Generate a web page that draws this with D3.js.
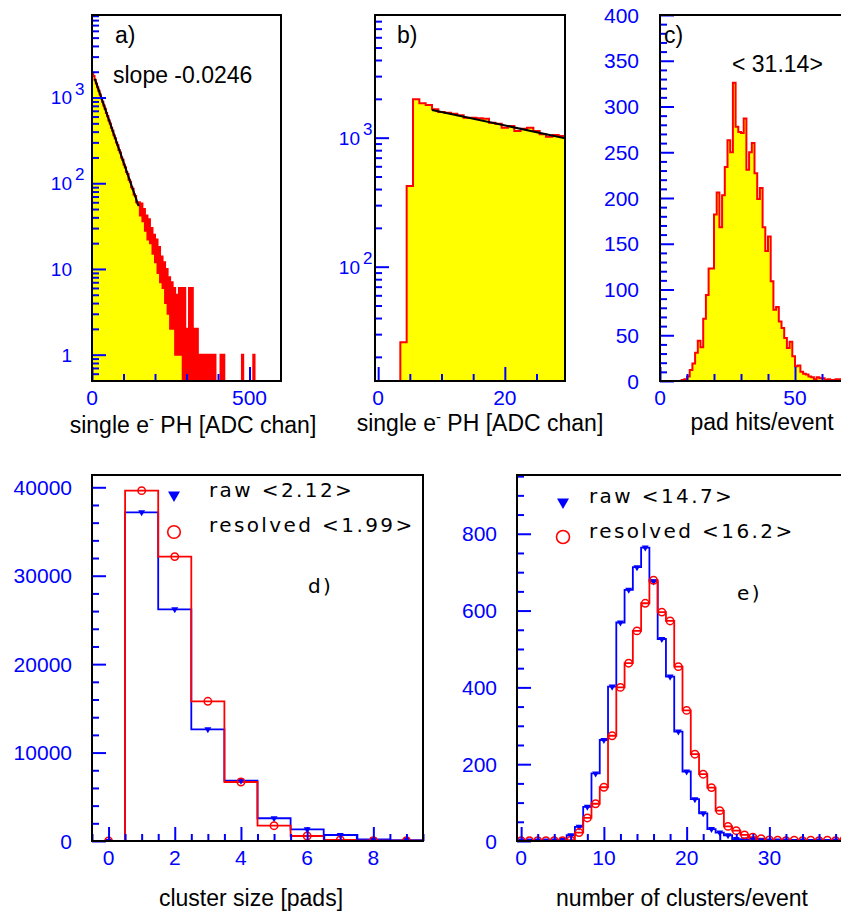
<!DOCTYPE html>
<html>
<head>
<meta charset="utf-8">
<script src="https://cdn.jsdelivr.net/npm/d3@7"></script>
<style>
  body { margin: 0; background: #fff; }
  text { font-family: "Liberation Sans", Arial, sans-serif; }
  .leg { font-family: "DejaVu Sans", sans-serif; letter-spacing: 2.4px; }
</style>
</head>
<body>
<script>
// ---- a) single electron pulse height, 4 ADC channel bins starting at 0
const phABin = 4;
const phA = [
  1950,1780,1610,1460,1322,1198,1086,984,892,808,
  740,660,605,540,498,445,410,362,336,298,
  278,245,228,200,188,165,154,135,128,110,
  104,90,86,74,71,60,58,60,42,58,
  36,50,28,42,22,38,20,30,15,25,
  12,22,9,18,7,14,6,12,4,10,
  3,8,2,7,2,6,1,5,1,6,
  1,6,0,6,0,2,0,6,0,6,
  0,2,0,2,0,1,0,1,0,1,
  0,1,0,1,0,1,0,1,0,0,
  0,0,1,0,1,0,0,0,0,0,
  0,0,0,0,0,0,0,0,0,1,
  0,0,0,0,0,0,0,0,1,0,
  0,0,0,0,0,0,0,0,0,0,
  0,0,0,0,0,0,0,0,0,0
];
const fitA = [[9, 1650], [148, 54]];

// ---- b) zoom of the same spectrum, 1 channel bins centred on 0..29
const phB = [0,0,0,0,26,422,1982,1846,1791,1659,1581,1563,1535,1490,1429,
             1429,1412,1404,1307,1284,1195,1231,1126,1174,1195,1126,1061,1018,1048,1030];
const fitB = [[8.5, 1640], [29.5, 990]];

// ---- c) pad hits per event, bins of 1 starting at 0
const padHits = [0,0,0,0,0,0,0,0,1,2,5,12,19,31,44,37,68,94,123,123,
                 182,206,168,203,234,263,250,326,278,272,271,287,231,250,260,227,199,211,168,142,
                 158,109,78,81,65,58,47,36,43,27,16,17,10,8,7,5,4,2,4,3,
                 3,1,2,1,1,2,2,1,0,1];

// ---- d) cluster size
const sizeBins = [0,1,2,3,4,5,6,7,8,9];
const sizeRaw = [0,37170,26200,12630,6820,2570,1320,680,190,110];
const sizeRes = [0,39620,32160,15800,6670,1730,565,113,40,30];

// ---- e) clusters per event
const nBins = d3.range(40);
const nRaw = [1,1,1,1,1,3,15,37,89,176,263,402,569,654,713,764,676,526,428,285,
              181,109,72,31,22,15,5,4,3,2,1,1,1,0,1,0,1,0,1,0];
const nRes = [1,1,1,1,1,1,2,22,60,97,140,274,400,463,547,619,679,596,573,454,
              340,226,174,139,79,38,27,16,10,6,3,2,1,2,1,2,1,2,1,3];

const BLUE = "#0000ff", RED = "#ff0000", YEL = "#ffff00";

const svg = d3.select("body").append("svg").attr("width", 841).attr("height", 913);
svg.append("rect").attr("width", 841).attr("height", 913).attr("fill", "#fff");

function clip(id, x, y) {
  svg.append("clipPath").attr("id", id).append("rect")
    .attr("x", x.range()[0]).attr("y", y.range()[1])
    .attr("width", x.range()[1] - x.range()[0]).attr("height", y.range()[0] - y.range()[1]);
}

function histPts(counts, lo, w, x, y) {
  const base = y.range()[0];
  const py = c => c > 0 ? y(Math.max(c, y.domain()[0])) : base;
  const pts = [[x(lo), base]];
  counts.forEach((c, i) => {
    pts.push([x(lo + i * w), py(c)], [x(lo + (i + 1) * w), py(c)]);
  });
  pts.push([x(lo + counts.length * w), base]);
  return pts;
}

function filledHist(id, counts, lo, w, x, y) {
  const pts = histPts(counts, lo, w, x, y);
  const g = svg.append("g").attr("clip-path", "url(#" + id + ")");
  g.append("path")
    .attr("d", d3.area().x(d => d[0]).y0(y.range()[0]).y1(d => d[1])(pts))
    .attr("fill", YEL);
  g.append("path").attr("d", d3.line()(pts))
    .attr("fill", "none").attr("stroke", RED).attr("stroke-width", 2);
  return g;
}

function lineHist(g, counts, lo, w, x, y, col) {
  g.append("path").attr("d", d3.line()(histPts(counts, lo, w, x, y)))
    .attr("fill", "none").attr("stroke", col).attr("stroke-width", 1.8);
}

function yTicks(x, scale, vals, len) {
  const g = svg.append("g").attr("transform", "translate(" + x + ",0)")
    .call(d3.axisLeft(scale).tickValues(vals).tickSizeInner(-len).tickSizeOuter(0).tickFormat(""));
  g.select(".domain").remove();
  g.selectAll("line").attr("stroke", BLUE).attr("stroke-width", 2);
}

function xTicks(y, scale, vals, len) {
  const g = svg.append("g").attr("transform", "translate(0," + y + ")")
    .call(d3.axisBottom(scale).tickValues(vals).tickSizeInner(-len).tickSizeOuter(0).tickFormat(""));
  g.select(".domain").remove();
  g.selectAll("line").attr("stroke", BLUE).attr("stroke-width", 2);
}

function yLabels(xEnd, scale, vals) {
  svg.append("g").selectAll("text").data(vals).join("text")
    .attr("x", xEnd).attr("y", d => scale(d)).attr("dy", "0.36em")
    .attr("text-anchor", "end").attr("fill", BLUE).attr("font-size", 21)
    .text(d => d);
}

function xLabels(yBase, scale, vals) {
  svg.append("g").selectAll("text").data(vals).join("text")
    .attr("x", d => scale(d)).attr("y", yBase)
    .attr("text-anchor", "middle").attr("fill", BLUE).attr("font-size", 21)
    .text(d => d);
}

function logLabels(xEnd, scale, vals) {
  vals.forEach(v => {
    const e = Math.round(Math.log10(v));
    svg.append("text").attr("x", xEnd).attr("y", scale(v)).attr("dy", "0.36em")
      .attr("text-anchor", "end").attr("fill", BLUE).attr("font-size", 19)
      .text(e < 2 ? v : "10");
    if (e >= 2) {
      svg.append("text").attr("x", xEnd + 3).attr("y", scale(v) - 3)
        .attr("fill", BLUE).attr("font-size", 17).text(e);
    }
  });
}

function frame(x, y) {
  svg.append("rect")
    .attr("x", x.range()[0]).attr("y", y.range()[1])
    .attr("width", x.range()[1] - x.range()[0]).attr("height", y.range()[0] - y.range()[1])
    .attr("fill", "none").attr("stroke", "#000").attr("stroke-width", 2);
}

function title(x, y, parts) {
  const t = svg.append("text").attr("x", x).attr("y", y)
    .attr("text-anchor", "middle").attr("font-size", 23).attr("fill", "#000");
  parts.forEach(p => {
    const s = t.append("tspan").text(p[0]);
    if (p[1]) s.attr("dy", p[1]);
    if (p[2]) s.attr("font-size", p[2]);
  });
}

function note(x, y, s, size) {
  svg.append("text").attr("x", x).attr("y", y).attr("font-size", size || 23)
    .attr("fill", "#000").text(s);
}

const tri = d3.symbol().type(d3.symbolTriangle);

// ================= a)
const xA = d3.scaleLinear([0, 600], [92, 281]);
const yA = d3.scaleLog([0.493, 9180], [381, 15]);
clip("ca", xA, yA);
const gA = filledHist("ca", phA, 0, phABin, xA, yA);
gA.append("path").attr("d", d3.line().x(d => xA(d[0])).y(d => yA(d[1]))(fitA))
  .attr("stroke", "#000").attr("stroke-width", 2).attr("fill", "none");
const majA = [1, 10, 100, 1000];
yTicks(92, yA, yA.ticks().filter(v => !majA.includes(v)), 7);
yTicks(92, yA, majA, 14);
xTicks(381, xA, [100, 200, 300, 400], 7);
xTicks(381, xA, [0, 500], 14);
frame(xA, yA);
logLabels(72, yA, majA);
xLabels(405, xA, [0, 500]);
title(193, 433, [["single e"], ["-", -9, 15], [" PH [ADC chan]", 9, 23]]);
note(115, 43, "a)");
note(113, 83, "slope -0.0246");

// ================= b)
const xB = d3.scaleLinear([-0.5, 29.5], [375, 565]);
const yB = d3.scaleLog([13, 8930], [381, 15]);
clip("cb", xB, yB);
const gB = filledHist("cb", phB, -0.5, 1, xB, yB);
gB.append("path").attr("d", d3.line().x(d => xB(d[0])).y(d => yB(d[1]))(fitB))
  .attr("stroke", "#000").attr("stroke-width", 2).attr("fill", "none");
const majB = [100, 1000];
yTicks(375, yB, yB.ticks().filter(v => !majB.includes(v)), 7);
yTicks(375, yB, majB, 14);
xTicks(381, xB, [5, 10, 15, 25], 7);
xTicks(381, xB, [0, 20], 14);
frame(xB, yB);
logLabels(360, yB, majB);
xLabels(405, xB, [0, 20]);
title(480, 431, [["single e"], ["-", -9, 15], [" PH [ADC chan]", 9, 23]]);
note(397, 43, "b)");

// ================= c)
const xC = d3.scaleLinear([0, 70], [660, 849]);
const yC = d3.scaleLinear([0, 400], [381, 15]);
clip("cc", xC, yC);
filledHist("cc", padHits, 0, 1, xC, yC);
yTicks(660, yC, d3.range(10, 400, 10).filter(v => v % 50), 7);
yTicks(660, yC, d3.range(0, 401, 50), 14);
xTicks(381, xC, [10, 20, 30, 40, 60], 7);
xTicks(381, xC, [0, 50], 14);
frame(xC, yC);
yLabels(639, yC, d3.range(0, 401, 50));
xLabels(405, xC, [0, 50]);
title(762, 430, [["pad hits/event"]]);
note(664, 43, "c)");
note(732, 72, "< 31.14>");

// ================= d)
const xD = d3.scaleLinear([-0.5, 9.5], [92, 423]);
const yD = d3.scaleLinear([0, 41390], [841, 475]);
clip("cd", xD, yD);
const gD = svg.append("g").attr("clip-path", "url(#cd)");
lineHist(gD, sizeRaw, -0.5, 1, xD, yD, BLUE);
lineHist(gD, sizeRes, -0.5, 1, xD, yD, RED);
gD.selectAll(".tr").data(sizeBins).join("path")
  .attr("d", tri.size(21)())
  .attr("transform", d => "translate(" + xD(d) + "," + yD(sizeRaw[d]) + ") rotate(180)")
  .attr("fill", BLUE);
gD.selectAll(".ci").data(sizeBins).join("circle")
  .attr("cx", d => xD(d)).attr("cy", d => yD(sizeRes[d])).attr("r", 3.7)
  .attr("fill", "none").attr("stroke", RED).attr("stroke-width", 1.5);
yTicks(92, yD, d3.range(2000, 41000, 2000).filter(v => v % 10000), 7);
yTicks(92, yD, d3.range(0, 40001, 10000), 14);
xTicks(841, xD, d3.range(-0.5, 9.6, 0.5).filter(v => v % 2 !== 0), 7);
xTicks(841, xD, [0, 2, 4, 6, 8], 14);
frame(xD, yD);
yLabels(72, yD, d3.range(0, 40001, 10000));
xLabels(865, xD, [0, 2, 4, 6, 8]);
title(251, 906, [["cluster size [pads]"]]);
svg.append("path").attr("d", tri.size(62)())
  .attr("transform", "translate(174,495) rotate(180)").attr("fill", BLUE);
svg.append("circle").attr("cx", 174).attr("cy", 532).attr("r", 6.3)
  .attr("fill", "none").attr("stroke", RED).attr("stroke-width", 1.6);
note(209, 497, "raw <2.12>", 20);
note(209, 532, "resolved <1.99>", 20);
note(308, 593, "d)", 20);

// ================= e)
const xE = d3.scaleLinear([-0.5, 39.5], [517, 848]);
const yE = d3.scaleLinear([0, 953], [841, 475]);
clip("ce", xE, yE);
const gE = svg.append("g").attr("clip-path", "url(#ce)");
lineHist(gE, nRaw, -0.5, 1, xE, yE, BLUE);
lineHist(gE, nRes, -0.5, 1, xE, yE, RED);
gE.selectAll(".tr").data(nBins).join("path")
  .attr("d", tri.size(21)())
  .attr("transform", d => "translate(" + xE(d) + "," + yE(nRaw[d]) + ") rotate(180)")
  .attr("fill", BLUE);
gE.selectAll(".ci").data(nBins).join("circle")
  .attr("cx", d => xE(d)).attr("cy", d => yE(nRes[d])).attr("r", 3.7)
  .attr("fill", "none").attr("stroke", RED).attr("stroke-width", 1.5);
yTicks(517, yE, d3.range(50, 953, 50).filter(v => v % 200), 7);
yTicks(517, yE, d3.range(0, 801, 200), 14);
xTicks(841, xE, d3.range(2, 40, 2).filter(v => v % 10), 7);
xTicks(841, xE, [0, 10, 20, 30], 14);
frame(xE, yE);
yLabels(497, yE, d3.range(0, 801, 200));
xLabels(865, xE, [0, 10, 20, 30]);
title(682, 906, [["number of clusters/event"]]);
svg.append("path").attr("d", tri.size(62)())
  .attr("transform", "translate(563,502) rotate(180)").attr("fill", BLUE);
svg.append("circle").attr("cx", 563).attr("cy", 537).attr("r", 6.5)
  .attr("fill", "none").attr("stroke", RED).attr("stroke-width", 1.6);
note(589, 503, "raw <14.7>", 20);
note(589, 538, "resolved <16.2>", 20);
note(737, 600, "e)", 20);

svg.selectAll("text").filter(function () {
  const s = d3.select(this).text();
  return /raw|resolved|^[de]\)$/.test(s);
}).attr("class", "leg");
</script>
</body>
</html>
